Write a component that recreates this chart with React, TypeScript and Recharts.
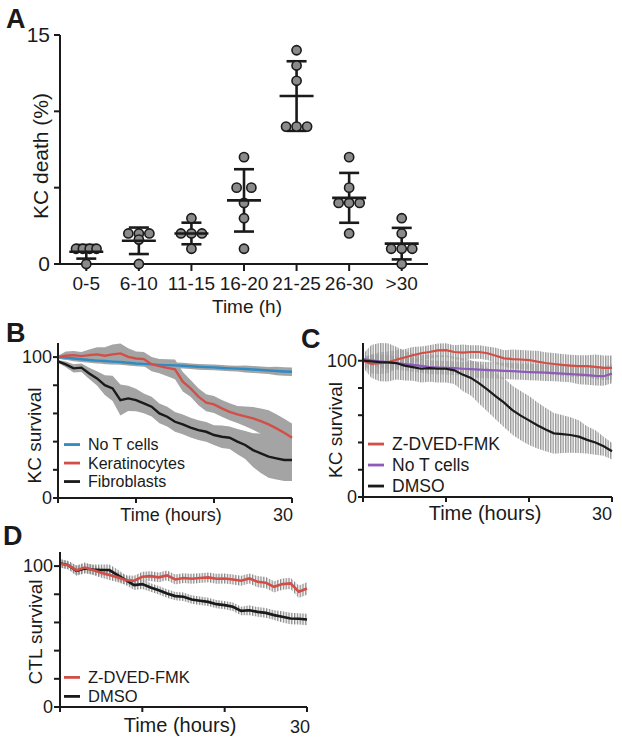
import React from "react";
import {
  ScatterChart,
  Scatter,
  ComposedChart,
  Area,
  Line,
  XAxis,
  YAxis,
  ErrorBar,
  Label,
} from "recharts";

const FONT = "'Liberation Sans', Arial, Helvetica, sans-serif";
const INK = "#1a1a1a";
const RED = "#d24f48";
const BLUE = "#2e8bc3";
const PURPLE = "#8d5bb8";
const BAND = "#a4a4a4";

// ---- A: KC death (%) per time window, one value per replicate
const windows = ["0-5", "6-10", "11-15", "16-20", "21-25", "26-30", ">30"];
const death0to5 = [1, 1, 1, 1, 0];
const death6to10 = [2, 2, 2, 1.6, 0];
const death11to15 = [3, 2, 2, 2, 1];
const death16to20 = [7, 5, 5, 4, 3, 1];
const death21to25 = [14, 13, 12, 9, 9, 9];
const death26to30 = [7, 5, 4, 4, 4, 2];
const deathOver30 = [3, 2, 1, 1, 1, 0];
const deathSets = [death0to5, death6to10, death11to15, death16to20, death21to25, death26to30, deathOver30];

// ---- B-D: survival (%) read hourly, mean and error
const hours = [0, 1, 2, 3, 4, 5, 6, 7, 8, 9, 10, 11, 12, 13, 14, 15, 16, 17, 18, 19, 20, 21, 22, 23, 24, 25, 26, 27, 28, 29, 30];

const bNames = ["No T cells", "Keratinocytes", "Fibroblasts"];
const bNoT = [100, 99.6, 99, 98.5, 97.9, 97.5, 97.2, 96.8, 96.5, 96, 95.5, 95.2, 94.8, 94.5, 94.3, 94.1, 93.9, 93.5, 93.1, 92.9, 92.7, 92.3, 92, 91.8, 91.5, 91.2, 90.8, 90.5, 90.1, 89.8, 89.6];
const bNoTErr = [1, 1.5, 2, 2, 2, 2, 2, 2, 2, 2, 2, 2, 2, 2, 2, 2, 2, 2, 2, 2, 2, 2, 2, 2, 2.5, 2.5, 2.5, 2.5, 3, 3, 3];
const bKer = [100, 101, 101.4, 100.7, 101.4, 101.9, 101, 101.9, 102.6, 100.2, 99, 98.6, 95, 93.6, 92.4, 91.3, 82.5, 77.8, 71.9, 67.6, 66.4, 63.6, 61.2, 59.3, 57.9, 56.5, 54.6, 52.2, 49.4, 46.3, 42.8];
const bKerErr = [1, 3, 3, 3, 4, 5, 6, 7, 7, 6, 5, 5, 5, 5, 6, 7, 7, 6, 6, 6, 6, 6, 6, 6, 7, 8, 9, 10, 10, 10, 10];
const bFib = [97, 94.8, 92, 92.5, 88.4, 84.9, 80.1, 77.8, 69.5, 70.7, 69.5, 67.1, 64.8, 60, 57.7, 54.1, 52.2, 49.9, 48.2, 47, 44.7, 43.5, 42.8, 40, 37.6, 34, 31.7, 29.3, 28.1, 27, 27];
const bFibErr = [1, 2, 3, 3, 4, 5, 7, 9, 11, 9, 8, 7, 7, 7, 7, 7, 7, 7, 7, 7, 7, 8, 8, 9, 10, 12, 14, 15, 15, 15, 15];

const cNames = ["Z-DVED-FMK", "No T cells", "DMSO"];
const cZ = [100, 97.6, 98.3, 98.8, 100.7, 102.4, 104, 105.5, 106.4, 107.6, 107.8, 106.4, 105.9, 106.4, 106.4, 105.5, 103.6, 101.7, 101.2, 100.9, 100.5, 99.3, 98.3, 97.6, 96.9, 96.4, 96, 96, 95.5, 94.8, 94.8];
const cZErr = [2, 7, 8, 8, 7, 6, 6, 5, 5, 5, 5, 5, 6, 5, 5, 5, 6, 6, 7, 7, 7, 8, 8, 8, 8, 8, 8, 8, 9, 9, 9];
const cNoT = [101.2, 100.3, 99.6, 99, 98.3, 97.6, 96.9, 96.2, 95.3, 95, 94.8, 94.5, 94.1, 93.8, 93.4, 93.1, 92.9, 92.6, 92.3, 92, 91.7, 91.5, 91.2, 90.9, 90.5, 90.2, 89.8, 89.4, 88.9, 88.6, 90.5];
const cNoTErr = [2, 4, 5, 5, 5, 5, 5, 5, 5, 5, 5, 5, 5, 6, 6, 6, 6, 6, 6, 6, 6, 6, 6, 6, 6, 6, 7, 7, 7, 7, 7];
const cDmso = [100, 99.5, 99, 98.8, 98.3, 96.4, 95.3, 94.1, 94.5, 94.1, 94.1, 92.9, 89.8, 87.4, 83.4, 78.7, 73.9, 69.2, 63.7, 59.7, 56.2, 52.6, 49.5, 46.7, 46.2, 45.5, 44.3, 41.9, 40, 37.2, 33.6];
const cDmsoErr = [5, 12, 14, 14, 12, 11, 10, 10, 10, 10, 10, 10, 12, 13, 15, 16, 17, 18, 18, 18, 18, 17, 16, 15, 14, 13, 12, 10, 9, 7, 6];

const dNames = ["Z-DVED-FMK", "DMSO"];
const dZ = [101.9, 100.7, 97, 99, 97.2, 95.3, 93.6, 92, 90, 89.6, 92.4, 92.9, 92, 93.4, 90.5, 91.5, 91, 91.5, 92, 91, 91.2, 90.5, 89.6, 91.2, 88.9, 88.2, 85.3, 87.2, 87.7, 81.8, 84.1];
const dZErr = [3, 3, 3.5, 3.5, 3.5, 3.5, 3.5, 3.5, 3.5, 3.5, 3.5, 3.5, 3.5, 3.5, 3.5, 3.5, 3.5, 3.5, 3.5, 3.5, 3.5, 3.5, 3.5, 3.5, 4, 4, 4, 4, 4, 4.5, 4.5];
const dDmso = [102, 100.7, 96.7, 98.3, 97.6, 97.2, 97.2, 93.6, 90, 86.5, 87.2, 84.8, 82.9, 80.6, 78.7, 78.2, 76.3, 75.4, 74.6, 73, 72.3, 71.1, 68.2, 68.7, 67.5, 66.8, 65.2, 64, 62.8, 62.6, 62.1];
const dDmsoErr = [3, 3, 3.5, 3.5, 3.5, 4, 4, 4, 3.5, 3.5, 3.5, 3, 3, 3, 3, 3, 3, 3, 3, 3, 3, 3, 3, 3.5, 3.5, 3.5, 3.5, 4, 4, 4, 4];

// ---- derived tables
const mean = (a: number[]) => a.reduce((s, v) => s + v, 0) / a.length;
const sd = (a: number[]) => {
  const m = mean(a);
  return Math.sqrt(a.reduce((s, v) => s + (v - m) ** 2, 0) / (a.length - 1));
};

// spread tied replicates sideways like a dot plot
const deathPoints = deathSets.flatMap((vals, i) => {
  const seen: Record<string, number> = {};
  return vals.map((v) => {
    const n = vals.filter((w) => w === v).length;
    const k = (seen[v] = (seen[v] ?? -1) + 1);
    const step = n === 2 ? 0.28 : n === 3 ? 0.2 : 0.13;
    return { x: i + (k - (n - 1) / 2) * step, y: v };
  });
});
const deathSummary = deathSets.map((vals, i) => ({ x: i, y: mean(vals), sd: sd(vals) }));

const band = (m: number[], e: number[], i: number) => [m[i] - e[i], m[i] + e[i]];
const tableB = hours.map((t, i) => ({
  t, noT: bNoT[i], ker: bKer[i], fib: bFib[i],
  noTBand: band(bNoT, bNoTErr, i), kerBand: band(bKer, bKerErr, i), fibBand: band(bFib, bFibErr, i),
}));
const tableC = hours.map((t, i) => ({
  t, z: cZ[i], noT: cNoT[i], dmso: cDmso[i],
  zBand: band(cZ, cZErr, i), noTBand: band(cNoT, cNoTErr, i), dmsoBand: band(cDmso, cDmsoErr, i),
}));
const tableD = hours.map((t, i) => ({
  t, z: dZ[i], dmso: dDmso[i], zBand: band(dZ, dZErr, i), dmsoBand: band(dDmso, dDmsoErr, i),
}));

// ---- helpers
const axisLine = { stroke: INK, strokeWidth: 2 };

const titleAt = (text: string, size: number, dx: number, dy: number, vertical = false) =>
  (props: any) => {
    const vb = props.viewBox || { x: 0, y: 0, width: 0, height: 0 };
    const cx = vb.x + vb.width / 2 + dx;
    const cy = vb.y + vb.height / 2 + dy;
    return (
      <text x={cx} y={cy} textAnchor="middle" dominantBaseline="central" fontSize={size}
        fontFamily={FONT} fill={INK} transform={vertical ? `rotate(-90 ${cx} ${cy})` : undefined}>
        {text}
      </text>
    );
  };

const endHourTick = (shift: number) => (p: any) =>
  p.payload.value === 30 ? (
    <text x={p.x + shift} y={p.y} dy="0.71em" textAnchor="end" fontSize={18} fontFamily={FONT} fill={INK}>
      30
    </text>
  ) : <g />;

const survivalTicks = (v: number) => (v === 0 || v === 100 ? String(v) : "");

const Dot = (p: any) => (
  <circle cx={p.cx} cy={p.cy} r={4.6} fill="#8a8a8a" stroke={INK} strokeWidth={1.6} />
);
const MeanTick = (p: any) => (
  <line x1={p.cx - 17} x2={p.cx + 17} y1={p.cy} y2={p.cy} stroke={INK} strokeWidth={2.6} />
);

function Legend({ x, y, names, colors, size, gap }: { x: number; y: number; names: string[]; colors: string[]; size: number; gap: number }) {
  return (
    <g>
      {names.map((n, i) => (
        <g key={n}>
          <line x1={x} x2={x + 16} y1={y + i * gap - size * 0.34} y2={y + i * gap - size * 0.34} stroke={colors[i]} strokeWidth={2.8} />
          <text x={x + 24} y={y + i * gap} fontSize={size} fontFamily={FONT} fill={INK}>{n}</text>
        </g>
      ))}
    </g>
  );
}

const letter = { fontSize: 27, fontWeight: 700, fontFamily: FONT, fill: INK } as const;

export default function App() {
  const abs = (left: number, top: number): React.CSSProperties => ({ position: "absolute", left, top });
  return (
    <div style={{ position: "absolute", left: 0, top: 0, width: 622, height: 741, background: "#fff" }}>
      <svg width={0} height={0} style={{ position: "absolute" }}>
        <defs>
          <pattern id="hatchC" width="2.5" height="8" patternUnits="userSpaceOnUse">
            <rect x="0" y="0" width="1.4" height="8" fill="#999" />
          </pattern>
          <pattern id="hatchD" width="2.8" height="8" patternUnits="userSpaceOnUse">
            <rect x="0" y="0" width="1.3" height="8" fill="#888" />
          </pattern>
        </defs>
      </svg>

      {/* A */}
      <div style={abs(0, 0)}>
        <ScatterChart width={440} height={320} margin={{ top: 35, right: 12, bottom: 26, left: 0 }}>
          <XAxis type="number" dataKey="x" domain={[-0.5, 6.5]} ticks={[0, 1, 2, 3, 4, 5, 6]} interval={0}
            tickFormatter={(v: number) => windows[v] ?? ""} height={30} axisLine={axisLine} tickLine={axisLine}
            tickSize={7} tickMargin={6} tick={{ fill: INK, fontSize: 19, fontFamily: FONT }}>
            <Label content={titleAt("Time (h)", 19, 3, 27)} />
          </XAxis>
          <YAxis type="number" dataKey="y" domain={[0, 15]} ticks={[0, 5, 10, 15]} interval={0} width={60}
            tickFormatter={(v: number) => (v === 0 || v === 15 ? String(v) : "")} axisLine={axisLine}
            tickLine={axisLine} tickSize={6} tickMargin={4} tick={{ fill: INK, fontSize: 21, fontFamily: FONT }}>
            <Label content={titleAt("KC death (%)", 21, 10, 6.5, true)} />
          </YAxis>
          <Scatter data={deathPoints} shape={Dot} isAnimationActive={false} />
          <Scatter data={deathSummary} shape={MeanTick} isAnimationActive={false}>
            <ErrorBar dataKey="sd" direction="y" width={10} stroke={INK} strokeWidth={2.6} />
          </Scatter>
        </ScatterChart>
      </div>

      {/* B */}
      <div style={abs(0, 320)}>
        <ComposedChart width={310} height={220} data={tableB} margin={{ top: 23, right: 18, bottom: 12, left: 0 }}>
          <XAxis type="number" dataKey="t" domain={[0, 30]} ticks={[0, 10, 20, 30]} interval={0} height={30}
            axisLine={axisLine} tickLine={axisLine} tickSize={5} tickMargin={5} tick={endHourTick(1)}>
            <Label content={titleAt("Time (hours)", 18, -4, 2)} />
          </XAxis>
          <YAxis type="number" domain={[0, 110]} ticks={[0, 20, 40, 60, 80, 100]} interval={0} width={58}
            tickFormatter={survivalTicks} axisLine={axisLine} tickLine={axisLine} tickSize={5} tickMargin={1}
            tick={{ fill: INK, fontSize: 18, fontFamily: FONT }}>
            <Label content={titleAt("KC survival", 19, 5.5, 15, true)} />
          </YAxis>
          <Area dataKey="noTBand" stroke="none" fill={BAND} fillOpacity={1} isAnimationActive={false} />
          <Line dataKey="noT" stroke={BLUE} strokeWidth={2.4} dot={false} isAnimationActive={false} />
          <Area dataKey="kerBand" stroke="none" fill={BAND} fillOpacity={1} isAnimationActive={false} />
          <Line dataKey="ker" stroke={RED} strokeWidth={2.4} dot={false} isAnimationActive={false} />
          <Area dataKey="fibBand" stroke="none" fill={BAND} fillOpacity={1} isAnimationActive={false} />
          <Line dataKey="fib" stroke={INK} strokeWidth={2.4} dot={false} isAnimationActive={false} />
        </ComposedChart>
      </div>

      {/* C */}
      <div style={abs(305, 320)}>
        <ComposedChart width={317} height={220} data={tableC} margin={{ top: 23, right: 10, bottom: 13, left: 0 }}>
          <XAxis type="number" dataKey="t" domain={[0, 30]} ticks={[0, 10, 20, 30]} interval={0} height={30}
            axisLine={axisLine} tickLine={axisLine} tickSize={5} tickMargin={5} tick={endHourTick(0)}>
            <Label content={titleAt("Time (hours)", 20, -2.5, 1)} />
          </XAxis>
          <YAxis type="number" domain={[0, 110]} ticks={[0, 20, 40, 60, 80, 100]} interval={0} width={58}
            tickFormatter={survivalTicks} axisLine={axisLine} tickLine={axisLine} tickSize={5} tickMargin={1}
            tick={{ fill: INK, fontSize: 18, fontFamily: FONT }}>
            <Label content={titleAt("KC survival", 19, 1, 10, true)} />
          </YAxis>
          <Area dataKey="zBand" stroke="none" fill="url(#hatchC)" fillOpacity={1} isAnimationActive={false} />
          <Area dataKey="noTBand" stroke="none" fill="url(#hatchC)" fillOpacity={1} isAnimationActive={false} />
          <Area dataKey="dmsoBand" stroke="none" fill="url(#hatchC)" fillOpacity={1} isAnimationActive={false} />
          <Line dataKey="z" stroke={RED} strokeWidth={2.2} dot={false} isAnimationActive={false} />
          <Line dataKey="noT" stroke={PURPLE} strokeWidth={2.2} dot={false} isAnimationActive={false} />
          <Line dataKey="dmso" stroke={INK} strokeWidth={2.2} dot={false} isAnimationActive={false} />
        </ComposedChart>
      </div>

      {/* D */}
      <div style={abs(0, 540)}>
        <ComposedChart width={320} height={201} data={tableD} margin={{ top: 12, right: 13, bottom: 4, left: 0 }}>
          <XAxis type="number" dataKey="t" domain={[0, 30]} ticks={[0, 10, 20, 30]} interval={0} height={30}
            axisLine={axisLine} tickLine={axisLine} tickSize={5} tickMargin={8} tick={endHourTick(3)}>
            <Label content={titleAt("Time (hours)", 20, -3.5, 3)} />
          </XAxis>
          <YAxis type="number" domain={[0, 110]} ticks={[0, 20, 40, 60, 80, 100]} interval={0} width={60}
            tickFormatter={survivalTicks} axisLine={axisLine} tickLine={axisLine} tickSize={6} tickMargin={1}
            tick={{ fill: INK, fontSize: 18, fontFamily: FONT }}>
            <Label content={titleAt("CTL survival", 19, 5, 2.5, true)} />
          </YAxis>
          <Area dataKey="dmsoBand" stroke="none" fill="url(#hatchD)" fillOpacity={1} isAnimationActive={false} />
          <Area dataKey="zBand" stroke="none" fill="url(#hatchD)" fillOpacity={1} isAnimationActive={false} />
          <Line dataKey="dmso" stroke={INK} strokeWidth={2.6} dot={false} isAnimationActive={false} />
          <Line dataKey="z" stroke={RED} strokeWidth={2.6} dot={false} isAnimationActive={false} />
        </ComposedChart>
      </div>

      {/* panel letters and legends */}
      <svg width={622} height={741} style={{ position: "absolute", left: 0, top: 0, pointerEvents: "none" }}>
        <text x={6} y={28} {...letter}>A</text>
        <text x={6} y={342} {...letter}>B</text>
        <text x={301} y={348} {...letter}>C</text>
        <text x={3} y={545} {...letter}>D</text>
        <Legend x={64} y={450} names={bNames} colors={[BLUE, RED, INK]} size={16} gap={18.5} />
        <Legend x={368} y={450} names={cNames} colors={[RED, PURPLE, INK]} size={17.5} gap={21} />
        <Legend x={64} y={683} names={dNames} colors={[RED, INK]} size={16.5} gap={19} />
      </svg>
    </div>
  );
}
